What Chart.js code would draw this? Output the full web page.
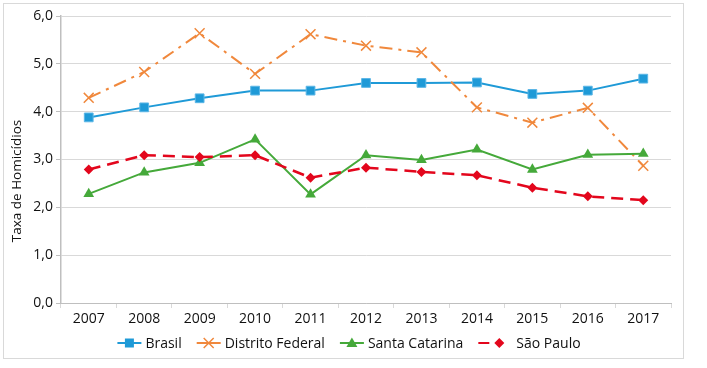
<!DOCTYPE html>
<html>
<head>
<meta charset="utf-8">
<script src="https://cdn.jsdelivr.net/npm/chart.js@4.4.1/dist/chart.umd.min.js"></script>
<style>
    html, body {
        margin: 0;
        padding: 0;
        background: #ffffff;
    }

    #wrap {
        position: relative;
        width: 707px;
        height: 368px;
    }
</style>
</head>
<body>
<div id="wrap">
    <canvas id="homicideChart" width="707" height="368"></canvas>
</div>
<script>
    const years = ['2007', '2008', '2009', '2010', '2011', '2012', '2013', '2014', '2015', '2016', '2017'];

    const brasil = [3.88, 4.09, 4.28, 4.44, 4.44, 4.60, 4.60, 4.61, 4.37, 4.44, 4.69];
    const distritoFederal = [4.29, 4.83, 5.64, 4.79, 5.62, 5.38, 5.24, 4.09, 3.77, 4.08, 2.87];
    const santaCatarina = [2.28, 2.73, 2.93, 3.42, 2.27, 3.09, 2.99, 3.21, 2.79, 3.10, 3.12];
    const saoPaulo = [2.79, 3.09, 3.05, 3.09, 2.62, 2.83, 2.74, 2.67, 2.41, 2.23, 2.15];

    const yTicks = [0, 1, 2, 3, 4, 5, 6];
    const yTitle = 'Taxa de Homicídios';

    const FONT = '"Open Sans", "DejaVu Sans", sans-serif';
    const TEXT = '#111111';

    function formatTick(value) {
        return Number(value).toFixed(1).replace('.', ',');
    }

    // Legend entries: colour, marker, dash and how the little symbol is laid out
    const legendItems = [
        { label: 'Brasil', color: '#1f9ad7', marker: 'rect', dash: [], symbolWidth: 24, markerAt: 12 },
        { label: 'Distrito Federal', color: '#f0883c', marker: 'crossRot', dash: [], symbolWidth: 24, markerAt: 12 },
        { label: 'Santa Catarina', color: '#45a93a', marker: 'triangle', dash: [], symbolWidth: 24, markerAt: 12 },
        { label: 'São Paulo', color: '#e3061c', marker: 'rectRot', dash: [11, 100], symbolWidth: 34, markerAt: 21 },
    ];

    function drawMarker(ctx, type, x, y, color) {
        ctx.save();
        ctx.fillStyle = color;
        ctx.strokeStyle = color;
        ctx.setLineDash([]);
        ctx.beginPath();
        if (type === 'rect') {
            ctx.rect(x - 4.5, y - 4.5, 9, 9);
            ctx.fill();
        } else if (type === 'crossRot') {
            ctx.lineWidth = 1.5;
            ctx.moveTo(x - 5, y - 5);
            ctx.lineTo(x + 5, y + 5);
            ctx.moveTo(x + 5, y - 5);
            ctx.lineTo(x - 5, y + 5);
            ctx.stroke();
        } else if (type === 'triangle') {
            ctx.moveTo(x, y - 5.5);
            ctx.lineTo(x + 5.5, y + 4);
            ctx.lineTo(x - 5.5, y + 4);
            ctx.closePath();
            ctx.fill();
        } else {
            ctx.moveTo(x, y - 5);
            ctx.lineTo(x + 5, y);
            ctx.lineTo(x, y + 5);
            ctx.lineTo(x - 5, y);
            ctx.closePath();
            ctx.fill();
        }
        ctx.restore();
    }

    const customLegend = {
        id: 'customLegend',
        afterDraw(chart) {
            const ctx = chart.ctx;
            const y = 343;
            const gap = 15;
            const textGap = 4;

            ctx.save();
            ctx.font = '14px ' + FONT;
            ctx.textBaseline = 'middle';
            ctx.fillStyle = TEXT;

            let total = 0;
            legendItems.forEach((item, i) => {
                total += item.symbolWidth + textGap + ctx.measureText(item.label).width;
                if (i < legendItems.length - 1) total += gap;
            });

            let x = 349 - total / 2;

            legendItems.forEach((item) => {
                ctx.save();
                ctx.strokeStyle = item.color;
                ctx.lineWidth = 2;
                ctx.setLineDash(item.dash);
                ctx.beginPath();
                ctx.moveTo(x, y);
                ctx.lineTo(x + item.symbolWidth, y);
                ctx.stroke();
                ctx.restore();

                drawMarker(ctx, item.marker, x + item.markerAt, y, item.color);

                x += item.symbolWidth + textGap;
                ctx.fillStyle = TEXT;
                ctx.textAlign = 'left';
                ctx.fillText(item.label, x, y + 1);
                x += ctx.measureText(item.label).width + gap;
            });

            ctx.restore();
        },
    };

    const frameAndTitle = {
        id: 'frameAndTitle',
        beforeDraw(chart) {
            const ctx = chart.ctx;
            ctx.save();
            ctx.fillStyle = '#ffffff';
            ctx.fillRect(0, 0, chart.width, chart.height);
            ctx.strokeStyle = '#d9d9d9';
            ctx.lineWidth = 1;
            ctx.strokeRect(3.5, 3.5, 680, 355);
            ctx.restore();
        },
        afterDraw(chart) {
            const ctx = chart.ctx;
            ctx.save();
            ctx.translate(17, 181);
            ctx.rotate(-Math.PI / 2);
            ctx.font = '13.5px ' + FONT;
            ctx.fillStyle = TEXT;
            ctx.textAlign = 'center';
            ctx.textBaseline = 'middle';
            ctx.fillText(yTitle, 0, 0);
            ctx.restore();
        },
    };

    const ctx = document.getElementById('homicideChart').getContext('2d');

    new Chart(ctx, {
        type: 'line',

        data: {
            labels: years,

            datasets: [
                {
                    label: 'Brasil',
                    data: brasil,
                    order: 3,
                    borderColor: '#1f9ad7',
                    backgroundColor: '#1f9ad7',
                    borderWidth: 2,
                    tension: 0,
                    pointStyle: 'rect',
                    pointRadius: 6.2,
                    pointBorderWidth: 1,
                    pointBorderColor: '#5bb6e6',
                    pointBackgroundColor: '#1f9ad7',
                },
                {
                    label: 'Distrito Federal',
                    data: distritoFederal,
                    order: 2,
                    borderColor: '#f0883c',
                    backgroundColor: '#f0883c',
                    borderWidth: 2,
                    borderDash: [13, 6, 3, 6],
                    tension: 0,
                    pointStyle: 'crossRot',
                    pointRadius: 7,
                    pointBorderWidth: 1.5,
                    pointBorderColor: '#f0883c',
                },
                {
                    label: 'Santa Catarina',
                    data: santaCatarina,
                    order: 1,
                    borderColor: '#45a93a',
                    backgroundColor: '#45a93a',
                    borderWidth: 2,
                    tension: 0,
                    pointStyle: 'triangle',
                    pointRadius: 6.2,
                    pointBorderWidth: 0,
                    pointBackgroundColor: '#45a93a',
                },
                {
                    label: 'São Paulo',
                    data: saoPaulo,
                    order: 0,
                    borderColor: '#e3061c',
                    backgroundColor: '#e3061c',
                    borderWidth: 2.5,
                    borderDash: [12, 7],
                    tension: 0,
                    pointStyle: 'rectRot',
                    pointRadius: 5,
                    pointBorderWidth: 0,
                    pointBackgroundColor: '#e3061c',
                },
            ],
        },

        options: {
            responsive: false,
            animation: false,
            devicePixelRatio: 1,

            layout: {
                padding: {
                    top: 16,
                    right: 36,
                    bottom: 0,
                    left: 0,
                },
            },

            plugins: {
                legend: { display: false },
                tooltip: { enabled: false },
            },

            scales: {
                x: {
                    offset: true,
                    afterFit(scale) {
                        scale.height = 65;
                    },
                    grid: {
                        offset: true,
                        drawOnChartArea: false,
                        drawTicks: true,
                        tickLength: 5,
                        tickColor: '#d9d9d9',
                    },
                    border: {
                        color: '#bfbfbf',
                        width: 1,
                    },
                    ticks: {
                        color: TEXT,
                        padding: 3,
                        maxRotation: 0,
                        font: { family: FONT, size: 14 },
                    },
                },

                y: {
                    min: yTicks[0],
                    max: yTicks[yTicks.length - 1],
                    afterFit(scale) {
                        scale.width = 61;
                    },
                    afterBuildTicks(scale) {
                        scale.ticks = yTicks.map((v) => ({ value: v }));
                    },
                    grid: {
                        color: '#d9d9d9',
                        tickColor: '#bfbfbf',
                        tickLength: 5,
                    },
                    border: {
                        color: '#bfbfbf',
                        width: 1.5,
                    },
                    ticks: {
                        color: TEXT,
                        padding: 3,
                        font: { family: FONT, size: 14 },
                        callback(value) {
                            return formatTick(value);
                        },
                    },
                },
            },
        },

        plugins: [frameAndTitle, customLegend],
    });
</script>
</body>
</html>
